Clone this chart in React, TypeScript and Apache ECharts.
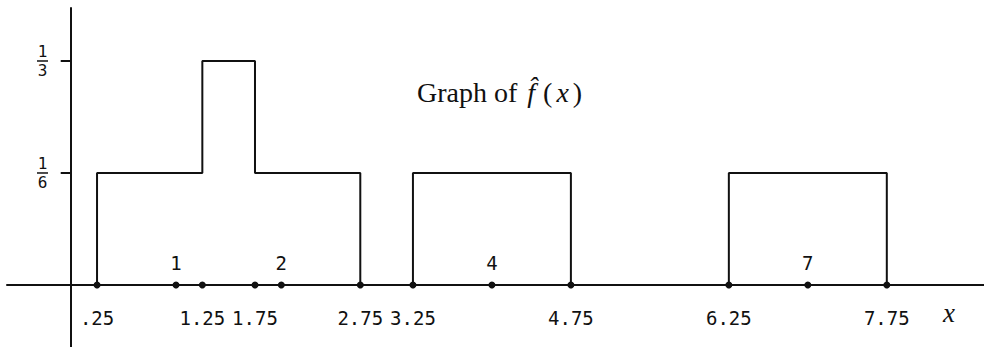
import React, { useEffect, useRef } from "react";
import * as echarts from "echarts";

// step function f-hat: break points and constant heights between them
const edges = [0.25, 1.25, 1.75, 2.75, 3.25, 4.75, 6.25, 7.75];
const heights = [1 / 6, 1 / 3, 1 / 6, 0, 1 / 6, 0, 1 / 6];

// dots on the x axis
const dotX = [0.25, 1, 1.25, 1.75, 2, 2.75, 3.25, 4, 4.75, 6.25, 7, 7.75];
// data points labelled above the axis
const labelledX = [1, 2, 4, 7];
// labels under the axis
const xTickValues = [0.25, 1.25, 1.75, 2.75, 3.25, 4.75, 6.25, 7.75];
const xTickLabels = [".25", "1.25", "1.75", "2.75", "3.25", "4.75", "6.25", "7.75"];
// y ticks as fractions
const yTickValues = [1 / 6, 1 / 3];
const yTickNum = ["1", "1"];
const yTickDen = ["6", "3"];

const INK = "#111";

export default function App() {
  const ref = useRef<HTMLDivElement>(null);
  useEffect(() => {
    if (!ref.current) return;
    const chart = echarts.init(ref.current, undefined, { renderer: "svg" });

    const stepPts: number[][] = [[edges[0], 0]];
    for (let i = 0; i < heights.length; i++) {
      stepPts.push([edges[i], heights[i]]);
      stepPts.push([edges[i + 1], heights[i]]);
    }
    stepPts.push([edges[edges.length - 1], 0]);

    const dots = dotX.map((x) => ({
      value: [x, 0],
      label: { show: labelledX.includes(x) },
    }));

    chart.setOption({
      animation: false,
      backgroundColor: "#fff",
      title: {
        text: "{a|Graph of }{f|f\u0302}{p|(}{b|x}{p|)}",
        left: 412,
        top: 73,
        textStyle: {
          fontWeight: "normal",
          rich: {
            a: { fontFamily: "Liberation Serif", fontSize: 28, fontWeight: "normal", color: INK },
            f: { fontFamily: "Liberation Serif", fontSize: 28, fontWeight: "normal", fontStyle: "italic", color: INK, padding: [0, 6, 0, 3] },
            p: { fontFamily: "Liberation Serif", fontSize: 28, fontWeight: "normal", color: INK, padding: [0, 2, 0, 2] },
            b: { fontFamily: "Liberation Serif", fontSize: 28, fontWeight: "normal", fontStyle: "italic", color: INK, padding: [0, 2, 0, 2] },
          },
        },
      },
      grid: { left: 7, right: 0, top: 8, bottom: 0, outerBoundsMode: "none", containLabel: false },
      xAxis: {
        type: "value",
        min: -0.605,
        max: 8.673,
        splitLine: { show: false },
        axisTick: { show: false },
        axisLine: { onZero: true, lineStyle: { color: INK, width: 2 } },
        axisLabel: {
          customValues: xTickValues,
          formatter: (v: number) => {
            const i = xTickValues.findIndex((t) => Math.abs(t - v) < 1e-6);
            return i >= 0 ? xTickLabels[i] : "";
          },
          margin: -39,
          fontFamily: "DejaVu Sans Mono",
          fontSize: 19,
          color: INK,
        },
      },
      yAxis: {
        type: "value",
        min: -0.0923,
        max: 0.4122,
        splitLine: { show: false },
        axisLine: { onZero: true, lineStyle: { color: INK, width: 2 } },
        axisTick: {
          customValues: yTickValues,
          length: 10,
          lineStyle: { color: INK, width: 2 },
        },
        axisLabel: {
          customValues: yTickValues,
          margin: -41,
          formatter: (v: number) => {
            const i = yTickValues.findIndex((t) => Math.abs(t - v) < 1e-6);
            return i >= 0 ? `{n|${yTickNum[i]}}\n{bar| }\n{n|${yTickDen[i]}}` : "";
          },
          rich: {
            n: { fontFamily: "DejaVu Sans Mono", fontSize: 16, lineHeight: 15, color: INK, align: "center" },
            bar: { width: 11, height: 1.5, lineHeight: 4, backgroundColor: INK, fontSize: 2, align: "center" },
          },
        },
      },
      series: [
        {
          type: "line",
          data: stepPts,
          showSymbol: false,
          lineStyle: { color: INK, width: 2 },
          silent: true,
          z: 2,
        },
        {
          type: "scatter",
          data: dots,
          symbolSize: 7,
          itemStyle: { color: INK, opacity: 1 },
          label: {
            position: "top",
            distance: 9,
            formatter: (p: any) => String(p.value[0]),
            fontFamily: "DejaVu Sans Mono",
            fontSize: 19,
            color: INK,
          },
          z: 3,
        },
      ],
      graphic: [
        {
          type: "text",
          left: 943,
          top: 299,
          style: {
            text: "x",
            fontFamily: "Liberation Serif",
            fontStyle: "italic",
            fontSize: 27,
            fill: INK,
          },
        },
      ],
    });
    return () => chart.dispose();
  }, []);
  return (
    <div
      ref={ref}
      style={{ position: "fixed", left: 0, top: 0, width: 984, height: 347, background: "#fff" }}
    />
  );
}
